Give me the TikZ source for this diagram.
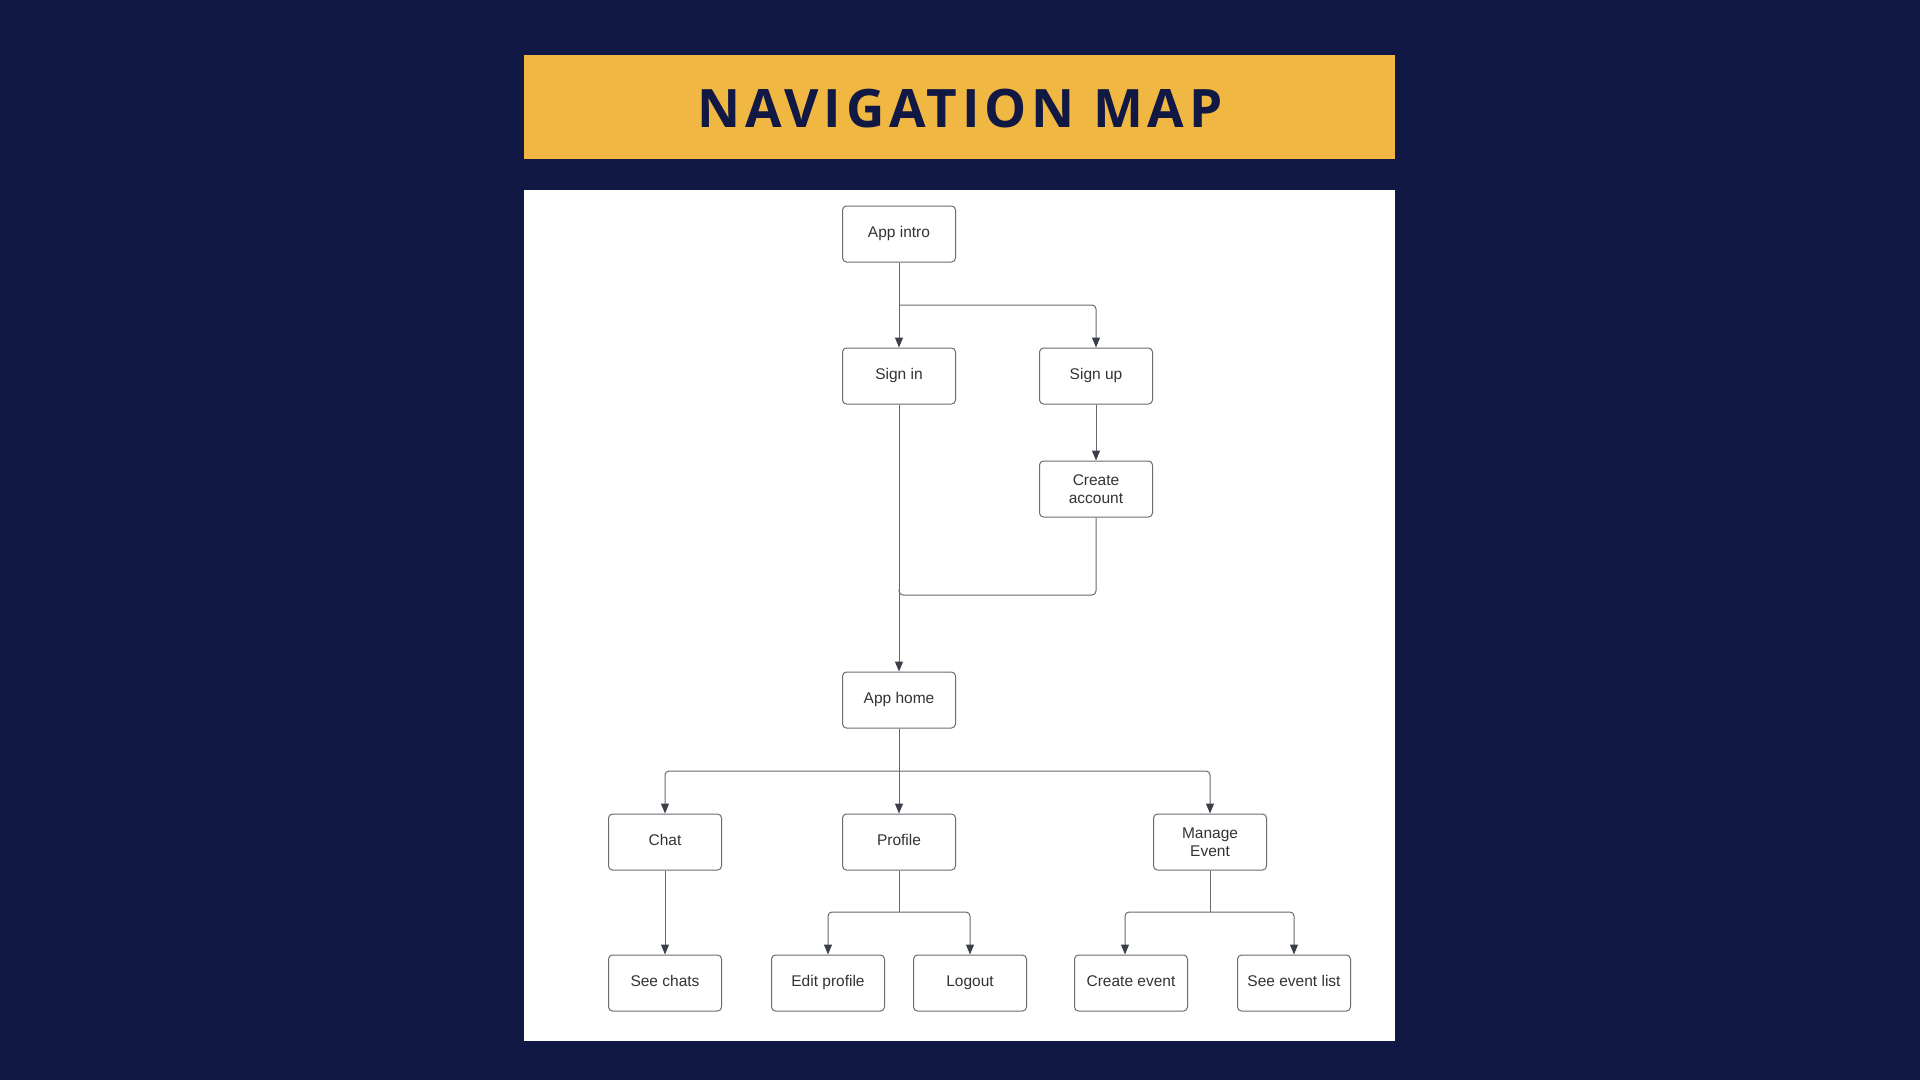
\documentclass[tikz,border=0pt]{standalone}
\usepackage{fontspec}
\setmainfont{Liberation Sans}
\newfontfamily\titlefont{Open Sans}[LetterSpace=9]
\usetikzlibrary{arrows.meta}
\definecolor{navy}{HTML}{101843}
\definecolor{gold}{HTML}{F0B843}
\definecolor{boxline}{HTML}{6A6D73}
\definecolor{conn}{HTML}{66696F}
\definecolor{tip}{HTML}{3A3F4A}
\definecolor{txt}{HTML}{333333}
\tikzset{
  boxbase/.style={draw=boxline, line width=1pt, rounded corners=4pt, fill=white,
    minimum width=113pt, minimum height=56pt, inner sep=2pt, align=center,
    text=txt, font=\fontsize{15.5}{18.5}\selectfont},
  box/.style={boxbase, text height=11.5pt, text depth=4pt},
  box2/.style={boxbase},
  conn/.style={draw=conn, line width=1pt, rounded corners=4pt,
    -{Triangle[length=10pt,width=8pt,color=tip]}},
  plain/.style={draw=conn, line width=1pt, rounded corners=4pt}
}
\begin{document}
\begin{tikzpicture}[x=1pt,y=-1pt]
\useasboundingbox (0,0) rectangle (1920,1080);
\fill[navy] (0,0) rectangle (1920,1080);
\fill[gold] (524,55) rectangle (1395,159);
\node[text=navy, font=\titlefont\bfseries\fontsize{53}{60}\selectfont] (title) at (960,109) {NAVIGATION MAP};
\fill[white] (524,190) rectangle (1395,1041);

\node[box] (intro) at (899,234) {App intro};
\node[box] (signin) at (899,376) {Sign in};
\node[box] (signup) at (1096,376) {Sign up};
\node[box2] (create) at (1096,489) {Create\\account};
\node[box] (home) at (899,700) {App home};
\node[box] (chat) at (665,842) {Chat};
\node[box] (profile) at (899,842) {Profile};
\node[box2] (manage) at (1210,842) {Manage\\Event};
\node[box] (seechats) at (665,983) {See chats};
\node[box] (edit) at (828,983) {Edit profile};
\node[box] (logout) at (970,983) {Logout};
\node[box] (cevent) at (1131,983) {Create event};
\node[box] (elist) at (1294,983) {See event list};

\coordinate (b1) at (899,305);
\coordinate (j1) at (899,595);
\coordinate (b2) at (899,771);
\coordinate (b3) at (899,912);
\coordinate (b4) at (1210,912);

\draw[conn] (intro.south) -- (signin.north);
\draw[conn] (b1) -- (b1 -| signup.north) -- (signup.north);
\draw[conn] (signin.south) -- (home.north);
\draw[conn] (signup.south) -- (create.north);
\draw[plain] (create.south) -- (create.south |- j1) -- (j1) -- ([yshift=6pt]j1);

\draw[conn] (home.south) -- (profile.north);
\draw[conn] (b2) -- (b2 -| chat.north) -- (chat.north);
\draw[conn] (b2) -- (b2 -| manage.north) -- (manage.north);

\draw[conn] (chat.south) -- (seechats.north);
\draw[plain] (profile.south) -- (b3);
\draw[conn] (b3) -- (b3 -| edit.north) -- (edit.north);
\draw[conn] (b3) -- (b3 -| logout.north) -- (logout.north);
\draw[plain] (manage.south) -- (b4);
\draw[conn] (b4) -- ([xshift=-6pt]b4 -| cevent.north) -- ([xshift=-6pt]cevent.north);
\draw[conn] (b4) -- (b4 -| elist.north) -- (elist.north);
\end{tikzpicture}
\end{document}
